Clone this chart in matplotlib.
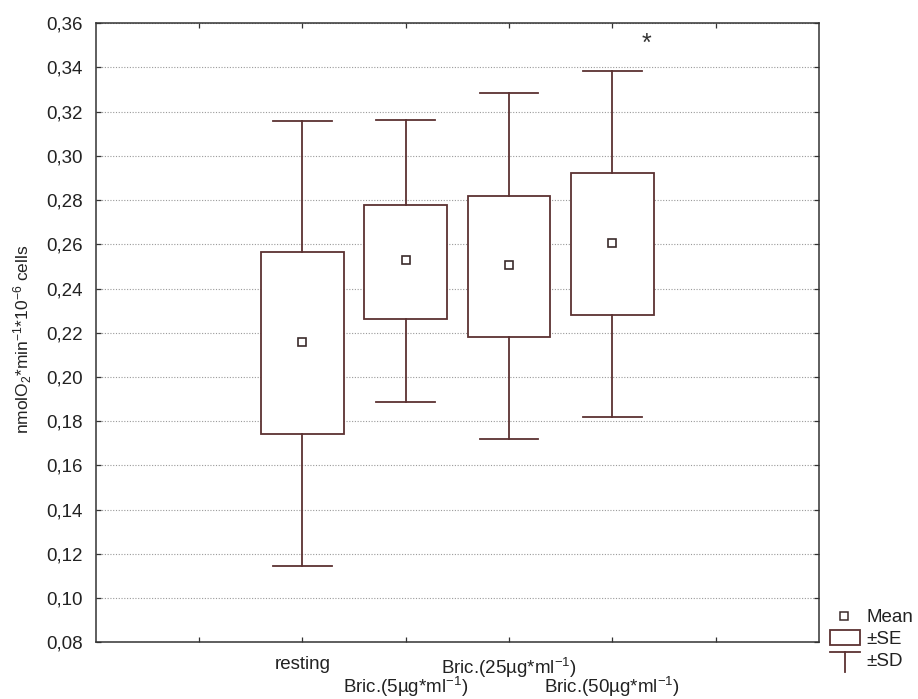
import matplotlib
matplotlib.use("Agg")
import matplotlib.pyplot as plt
from matplotlib.patches import Rectangle
from matplotlib.lines import Line2D
import matplotlib.transforms as mtransforms

plt.rcParams['font.family'] = ['Liberation Sans', 'DejaVu Sans']
plt.rcParams['mathtext.fontset'] = 'custom'
plt.rcParams['mathtext.rm'] = 'Liberation Sans'
plt.rcParams['mathtext.it'] = 'Liberation Sans:italic'
plt.rcParams['mathtext.default'] = 'regular'

# ---- data ----
categories = ["resting", r"Bric.(5µg*ml$^{-1}$)", r"Bric.(25µg*ml$^{-1}$)", r"Bric.(50µg*ml$^{-1}$)"]
means = [0.2158, 0.2527, 0.2506, 0.2607]
se_low = [0.1744, 0.2263, 0.2179, 0.2281]
se_high = [0.2563, 0.2780, 0.2820, 0.2921]
sd_low = [0.1145, 0.1887, 0.1720, 0.1821]
sd_high = [0.3156, 0.3162, 0.3284, 0.3385]
yticks = [0.08, 0.10, 0.12, 0.14, 0.16, 0.18, 0.20, 0.22, 0.24, 0.26, 0.28, 0.30, 0.32, 0.34, 0.36]
ytick_labels = [f"{v:.2f}".replace(".", ",") for v in yticks]
signif = [False, False, False, True]
ylabel = r"nmolO$_2$*min$^{-1}$*10$^{-6}$ cells"

positions = [2, 3, 4, 5]
col = '#5c3232'
mcol = '#3b2b2b'
tcol = '#222222'
fs = 13.5

fig = plt.figure(figsize=(9.18, 6.99), dpi=100)
ax = fig.add_axes([0.1043, 0.0811, 0.7877, 0.8857])
ax.set_xlim(0, 7)
ax.set_ylim(0.08, 0.36)

box_w = 0.8
cap_w = 0.57
for x, m, sl, sh, dl, dh in zip(positions, means, se_low, se_high, sd_low, sd_high):
    ax.add_patch(Rectangle((x - box_w / 2, sl), box_w, sh - sl, facecolor='white',
                           edgecolor=col, linewidth=1.3, zorder=3))
    ax.plot([x, x], [sh, dh], color=col, lw=1.3, zorder=3)
    ax.plot([x, x], [dl, sl], color=col, lw=1.3, zorder=3)
    ax.plot([x - cap_w / 2, x + cap_w / 2], [dh, dh], color=col, lw=1.3, zorder=3)
    ax.plot([x - cap_w / 2, x + cap_w / 2], [dl, dl], color=col, lw=1.3, zorder=3)
    ax.plot([x], [m], marker='s', ms=6.3, mfc='white', mec=mcol, mew=1.2, zorder=4)

for x, s, dh in zip(positions, signif, sd_high):
    if s:
        ax.text(x + 0.33, 0.3505, "*", ha='center', va='center', fontsize=18, color='#333333')

# grid
ax.set_yticks(yticks)
ax.set_yticklabels(ytick_labels, fontsize=fs, color=tcol)
ax.yaxis.grid(True, linestyle=(0, (1, 1.5)), color='#9a9a9a', linewidth=0.8, zorder=0)
ax.set_axisbelow(True)

ax.set_xticks([1, 2, 3, 4, 5, 6])
ax.set_xticklabels([])
ax.tick_params(axis='both', direction='in', length=3.5, width=0.9, color='#333333',
               top=True, right=True, pad=9.5)

for sp in ax.spines.values():
    sp.set_color('#333333')
    sp.set_linewidth(1.1)

# staggered category labels
trans = mtransforms.blended_transform_factory(ax.transData, ax.transAxes)
for i, (x, lab) in enumerate(zip(positions, categories)):
    yoff = -0.022 if i % 2 == 0 else -0.053
    ax.text(x, yoff, lab, transform=trans, ha='center', va='top', fontsize=fs, color=tcol)

ax.set_ylabel(ylabel, fontsize=12.5, color=tcol)
ax.yaxis.set_label_coords(-0.086, 0.49)

# legend (manual, bottom right)
ftr = fig.transFigure
def fx(px):
    return px / 918.0
def fy(py):
    return 1 - py / 699.0

fig.add_artist(Line2D([fx(844)], [fy(616)], marker='s', ms=6, mfc='white', mec=mcol, mew=1.1,
                      transform=ftr))
fig.text(fx(866), fy(617), "Mean", ha='left', va='center', fontsize=fs, color=tcol)
fig.add_artist(Rectangle((fx(830), fy(645)), fx(860) - fx(830), fy(630) - fy(645), transform=ftr,
                         facecolor='white', edgecolor=col, linewidth=1.3))
fig.text(fx(866), fy(639), "±SE", ha='left', va='center', fontsize=fs, color=tcol)
fig.add_artist(Line2D([fx(830), fx(860)], [fy(652), fy(652)], color=col, lw=1.3, transform=ftr))
fig.add_artist(Line2D([fx(845), fx(845)], [fy(652), fy(672)], color=col, lw=1.3, transform=ftr))
fig.text(fx(866), fy(661), "±SD", ha='left', va='center', fontsize=fs, color=tcol)

fig.savefig("out.png", dpi=100, facecolor='white')
